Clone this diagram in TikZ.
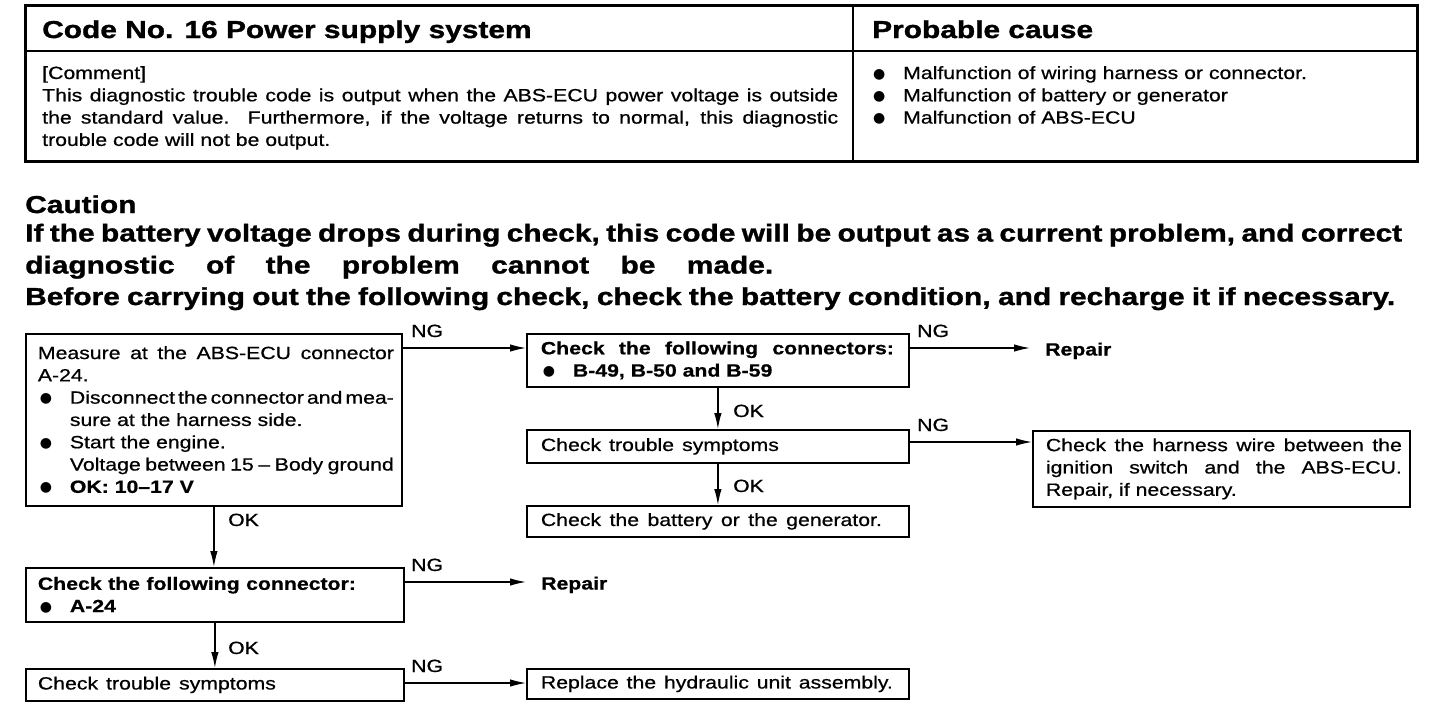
\documentclass[tikz,border=0pt]{standalone}
\usepackage{fontspec}
\setmainfont{Liberation Sans}
\newfontfamily\stretchsans[FakeStretch=1.2, FakeBold=0.7]{Liberation Sans}
\newfontfamily\stretchbig[FakeStretch=1.22, FakeBold=1.2]{Liberation Sans}
\newfontfamily\dotfont{DejaVu Sans}
\usetikzlibrary{arrows.meta}
\newcommand\bodyfont{\stretchsans\fontsize{17.7}{22.3}\selectfont}
\newcommand\bodybold{\stretchsans\bfseries\fontsize{17.7}{22.3}\selectfont}
\newcommand\bigbold{\stretchbig\bfseries\fontsize{24.5}{32}\selectfont}
\newcommand\hang{32pt}
\newcommand\bul{\makebox[\hang][l]{\hspace*{2pt}\raisebox{1pt}{\dotfont\mdseries\fontsize{14}{14}\selectfont ●}}}
\newcommand\jl[2]{\makebox[#1][s]{\spaceskip=.26em plus 1fil minus .12em\relax #2}}
\newcommand\boxtext[3]{\makebox[#1][l]{\hspace*{#2}\parbox{\dimexpr#1-#2\relax}{\raggedright\bodyfont #3}}}
\begin{document}
\begin{tikzpicture}[x=1pt,y=-1pt,
  flowbox/.style={draw, line width=1.8pt, inner sep=0pt, anchor=north west, minimum height=#1},
  txt/.style={anchor=base west, inner sep=0pt},
  lbl/.style={anchor=base west, inner sep=0pt, font=\bodyfont},
  arr/.style={line width=1.3pt, -{Latex[length=16pt,width=7.5pt]}}]
\useasboundingbox (0,0) rectangle (1456,718);
% ---------- table ----------
\draw[line width=2pt] (25,51) -- (1417,51);
\draw[line width=2pt] (853,5) -- (853,161);
\draw[line width=3pt] (25,5) rectangle (1417,161);
\node[txt, font=\bigbold] (title) at (42,38) {Code No. 16 Power supply system};
\node[txt, font=\bigbold] (causetitle) at (872,38) {Probable cause};
\node[txt] (comment) at (42,79) {\parbox[t]{796pt}{\raggedright\bodyfont [Comment]\\
\jl{796pt}{This diagnostic trouble code is output when the ABS-ECU power voltage is outside}\\
\jl{796pt}{the standard value.\ \ Furthermore, if the voltage returns to normal, this diagnostic}\\
trouble code will not be output.}};
\node[txt] (causes) at (871,79) {\parbox[t]{540pt}{\raggedright\bodyfont
\bul Malfunction of wiring harness or connector.\\
\bul Malfunction of battery or generator\\
\bul Malfunction of ABS-ECU}};
% ---------- caution ----------
\node[txt, font=\bigbold] (caution) at (25,213) {Caution};
\node[txt, font=\bigbold] (cline1) at (25,241.5) {\jl{1377pt}{If the battery voltage drops during check, this code will be output as a current problem, and correct}};
\node[txt, font=\bigbold] (cline2) at (25,273.5) {\jl{748pt}{diagnostic of the problem cannot be made.}};
\node[txt, font=\bigbold] (cline3) at (25,305) {\jl{1370pt}{Before carrying out the following check, check the battery condition, and recharge it if necessary.}};
% ---------- flow boxes ----------
\node[flowbox=172pt] (b1) at (25,333) {\boxtext{376pt}{12pt}{%
\jl{356pt}{Measure at the ABS-ECU connector}\\
A-24.\\
\bul\jl{\dimexpr356pt-\hang\relax}{Disconnect the connector and mea-}\\
\hspace*{\hang}sure at the harness side.\\
\bul Start the engine.\\
\hspace*{\hang}\jl{\dimexpr356pt-\hang\relax}{Voltage between 15 – Body ground}\\
\bul{\bfseries OK: 10–17 V}}};
\node[flowbox=53pt] (b2) at (526,333) {\boxtext{382pt}{14pt}{\bfseries
\jl{353pt}{Check the following connectors:}\\
\bul B-49, B-50 and B-59}};
\node[flowbox=33pt] (b3) at (526,429) {\boxtext{382pt}{14pt}{\jl{238pt}{Check trouble symptoms}}};
\node[flowbox=31pt] (b4) at (526,505) {\boxtext{382pt}{14pt}{\jl{341pt}{Check the battery or the generator.}}};
\node[flowbox=76pt] (b6) at (1032,430) {\boxtext{377pt}{13pt}{%
\jl{356pt}{Check the harness wire between the}\\
\jl{356pt}{ignition switch and the ABS-ECU.}\\
Repair, if necessary.}};
\node[flowbox=54pt] (b5) at (25,567) {\boxtext{378pt}{12pt}{\bfseries
\jl{318pt}{Check the following connector:}\\
\bul A-24}};
\node[flowbox=32pt] (b7) at (25,668) {\boxtext{378pt}{12pt}{\jl{238pt}{Check trouble symptoms}}};
\node[flowbox=30pt] (b8) at (526,668) {\boxtext{382pt}{14pt}{\jl{352pt}{Replace the hydraulic unit assembly.}}};
\node[txt, font=\bodybold] (rep1) at (1045,355.5) {Repair};
\node[txt, font=\bodybold] (rep2) at (541,589.5) {Repair};
% ---------- levels ----------
\coordinate (ng1) at (0,348);
\coordinate (ng3) at (0,442);
\coordinate (ng4) at (0,582);
\coordinate (ng5) at (0,683);
\coordinate (rep1tip) at (1030,348);
\coordinate (rep2tip) at (526,582);
% ---------- connectors ----------
\draw[arr] (b1.east |- ng1) -- (b2.west |- ng1);
\draw[arr] (b2.east |- ng1) -- (rep1tip);
\draw[arr] (b2.south) -- (b3.north);
\draw[arr] (b3.east |- ng3) -- (b6.west |- ng3);
\draw[arr] (b3.south) -- (b4.north);
\draw[arr] (b1.south) -- (b1.south |- b5.north);
\draw[arr] (b5.east |- ng4) -- (rep2tip);
\draw[arr] (b5.south) -- (b5.south |- b7.north);
\draw[arr] (b7.east |- ng5) -- (b8.west |- ng5);
% ---------- labels ----------
\node[lbl] (ngA) at (411,337) {NG};
\node[lbl] (ngB) at (917,337) {NG};
\node[lbl] (ngC) at (917,431) {NG};
\node[lbl] (ngD) at (411,571) {NG};
\node[lbl] (ngE) at (411,672) {NG};
\node[lbl] (okA) at (228,526) {OK};
\node[lbl] (okB) at (228,654) {OK};
\node[lbl] (okC) at (733,417) {OK};
\node[lbl] (okD) at (733,492) {OK};
\end{tikzpicture}
\end{document}
